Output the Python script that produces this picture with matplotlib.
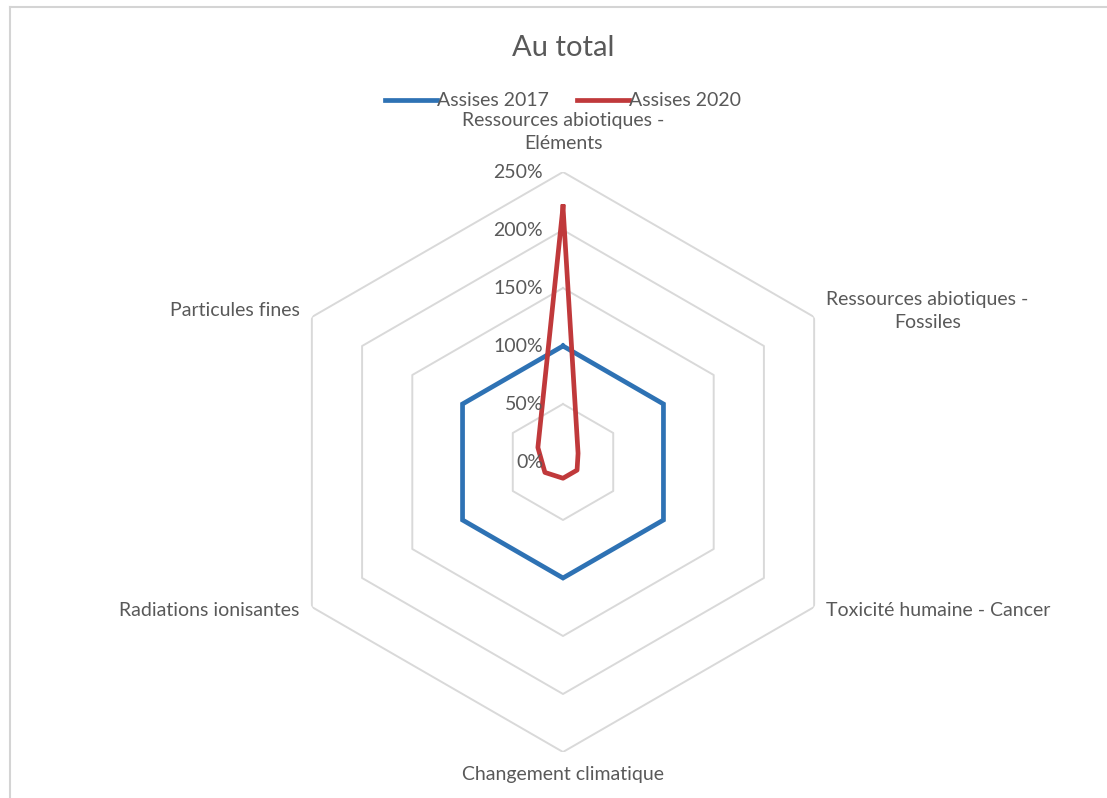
import numpy as np
import matplotlib
matplotlib.use("Agg")
import matplotlib.pyplot as plt
from matplotlib.lines import Line2D
from matplotlib.transforms import offset_copy

plt.rcParams['font.family'] = ['Lato', 'DejaVu Sans']

categories = [
    "Ressources abiotiques -\nEléments",
    "Ressources abiotiques -\nFossiles",
    "Toxicité humaine - Cancer",
    "Changement climatique",
    "Radiations ionisantes",
    "Particules fines",
]
assises_2017 = [100, 100, 100, 100, 100, 100]
assises_2020 = [220, 15, 14, 14, 18, 25]
tick_values = [0, 50, 100, 150, 200, 250]
tick_labels = ["0%", "50%", "100%", "150%", "200%", "250%"]

W, H = 1107, 798
fig = plt.figure(figsize=(W / 100, H / 100), dpi=100)
fig.patch.set_facecolor("white")

TEXT = "#595959"

# chart-area border (top and left edges)
fig.add_artist(Line2D([10 / W, 10 / W], [0, 1 - 7 / H], transform=fig.transFigure,
                      color="#d4d4d4", lw=1.5))
fig.add_artist(Line2D([10 / W, 1], [1 - 7 / H, 1 - 7 / H], transform=fig.transFigure,
                      color="#d4d4d4", lw=1.5))

cx, cy, R = 563, 462, 290
ax = fig.add_axes([(cx - R) / W, (H - cy - R) / H, 2 * R / W, 2 * R / H],
                  projection="polar")
ax.set_theta_offset(np.pi / 2)
ax.set_theta_direction(-1)
ax.set_ylim(0, 250)
ax.grid(False)
ax.set_xticks([])
ax.set_yticks([])
ax.spines["polar"].set_visible(False)
ax.patch.set_alpha(0)

n = len(categories)
theta = np.linspace(0, 2 * np.pi, n, endpoint=False)
theta_closed = np.concatenate([theta, theta[:1]])

# hexagonal gridlines
for v in tick_values[1:]:
    ax.plot(theta_closed, [v] * (n + 1), color="#d9d9d9", lw=1.4, zorder=1)

def closed(vals):
    return list(vals) + [vals[0]]

ax.plot(theta_closed, closed(assises_2017), color="#2e72b4", lw=3.4,
        solid_joinstyle="miter", zorder=3)
ax.plot(theta_closed, closed(assises_2020), color="#c0393b", lw=3.4,
        solid_joinstyle="round", zorder=4)

# radial tick labels to the left of the top axis
tick_tr = offset_copy(ax.transData, fig=fig, x=-20, y=0, units="dots")
for v, lab in zip(tick_values, tick_labels):
    ax.text(0, v, lab, transform=tick_tr, ha="right", va="center",
            fontsize=14, color=TEXT, zorder=5)

# category labels around the outer ring
align = [("center", "bottom"), ("left", "center"), ("left", "center"),
         ("center", "top"), ("right", "center"), ("right", "center")]
shifts = [(0, 20), (12, 6), (12, -3), (0, -14), (-12, -3), (-12, 7)]
for t, (ha, va), (dx, dy), lab in zip(theta, align, shifts, categories):
    tr = offset_copy(ax.transData, fig=fig, x=dx, y=dy, units="dots")
    ax.text(t, 250, lab, transform=tr, ha=ha, va=va, fontsize=14,
            color=TEXT, linespacing=1.45, multialignment="center")

fig.text(cx / W, 1 - 48 / H, "Au total", ha="center", va="center",
         fontsize=21, color=TEXT)

handles = [Line2D([], [], color="#2e72b4", lw=3.4),
           Line2D([], [], color="#c0393b", lw=3.4)]
fig.legend(handles, ["Assises 2017", "Assises 2020"], loc="center",
           bbox_to_anchor=(cx / W, 1 - 101 / H), ncol=2, frameon=False,
           fontsize=14, handlelength=2.7, handletextpad=0.0, columnspacing=1.4,
           labelcolor=TEXT)

fig.savefig("out.png", dpi=100, facecolor="white")
